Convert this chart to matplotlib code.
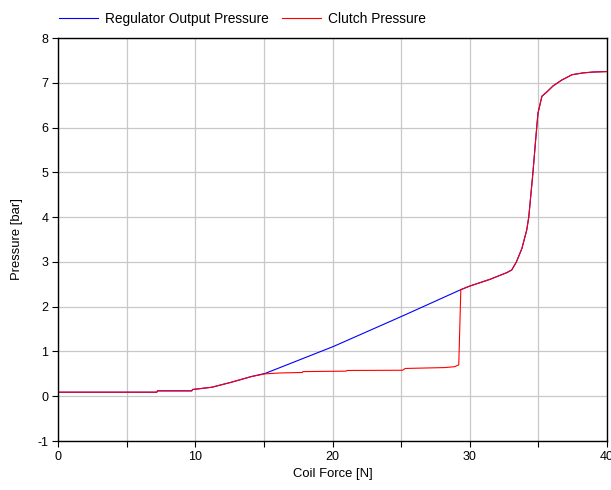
import matplotlib
matplotlib.use("Agg")
import matplotlib.pyplot as plt

plt.rcParams['font.family'] = ['Liberation Sans', 'DejaVu Sans']
plt.rcParams['axes.unicode_minus'] = False

reg_x = [0, 7.2, 7.25, 9.75, 9.8, 11.2, 12.6, 14.1, 15.1, 20.06, 25.16, 29.35, 30.0, 31.47,
         32.7, 33.06, 33.4, 33.8, 34.15, 34.3, 34.6, 34.8, 34.97, 35.26, 35.6, 36.07, 36.7,
         37.45, 38.25, 38.98, 40]
reg_y = [0.09, 0.09, 0.12, 0.12, 0.15, 0.2, 0.31, 0.44, 0.51, 1.11, 1.8, 2.38, 2.46, 2.61,
         2.76, 2.82, 3.0, 3.3, 3.71, 4.0, 4.98, 5.72, 6.32, 6.7, 6.79, 6.93, 7.06,
         7.18, 7.22, 7.24, 7.25]

clutch_x = [0, 7.2, 7.25, 9.75, 9.8, 11.2, 12.6, 14.1, 15.1, 16.2, 17.8, 17.85, 21.0, 21.05,
            25.1, 25.3, 28.2, 28.9, 29.2, 29.35, 30.0, 31.47,
            32.7, 33.06, 33.4, 33.8, 34.15, 34.3, 34.6, 34.8, 34.97, 35.26, 35.6, 36.07, 36.7,
            37.45, 38.25, 38.98, 40]
clutch_y = [0.09, 0.09, 0.12, 0.12, 0.15, 0.2, 0.31, 0.44, 0.5, 0.52, 0.53, 0.55, 0.56, 0.575,
            0.58, 0.62, 0.64, 0.66, 0.7, 2.38, 2.46, 2.61,
            2.76, 2.82, 3.0, 3.3, 3.71, 4.0, 4.98, 5.72, 6.32, 6.7, 6.79, 6.93, 7.06,
            7.18, 7.22, 7.24, 7.25]

x_ticks = [0, 5, 10, 15, 20, 25, 30, 35, 40]
x_labels = ['0', '', '10', '', '20', '', '30', '', '40']
y_ticks = [-1, 0, 1, 2, 3, 4, 5, 6, 7, 8]

fig = plt.figure(figsize=(6.11, 4.9), dpi=100)
ax = fig.add_axes([58/611, 1-441/490, (607-58)/611, (441-38)/490])

ax.plot(reg_x, reg_y, color='#0000ff', lw=0.8, label='Regulator Output Pressure')
ax.plot(clutch_x, clutch_y, color='#ff0000', lw=0.8, label='Clutch Pressure')

ax.set_xlim(0, 40)
ax.set_ylim(-1, 8)
ax.set_xticks(x_ticks)
ax.set_xticklabels(x_labels)
ax.set_yticks(y_ticks)
ax.grid(True, color='#c8c8c8', lw=0.9)
ax.set_axisbelow(True)
ax.tick_params(direction='out', length=4, width=0.8, labelsize=9, pad=3)
for s in ax.spines.values():
    s.set_linewidth(1.0)
    s.set_color('black')
ax.set_xlabel('Coil Force [N]', fontsize=9.4, labelpad=4)
ax.set_ylabel('Pressure [bar]', fontsize=9.4, labelpad=10)

fig.legend(handles=ax.get_lines(), loc='center left',
           bbox_to_anchor=(59/611, 1-18.7/490), bbox_transform=fig.transFigure,
           ncol=2, frameon=False, fontsize=9.9, handlelength=2.85,
           columnspacing=0.95, handletextpad=0.5, borderaxespad=0.0, borderpad=0.0)

fig.savefig('out.png', dpi=100)
